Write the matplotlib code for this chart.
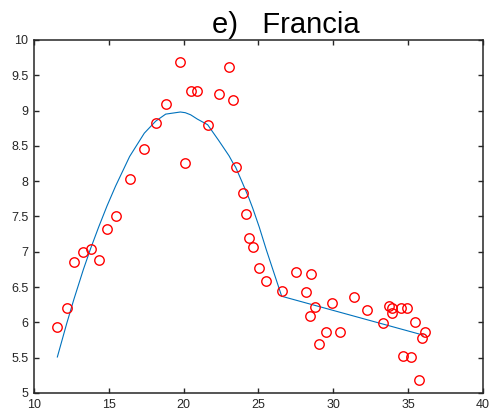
import matplotlib
matplotlib.use("Agg")
import matplotlib.pyplot as plt

# measured points (red circles)
x_obs = [11.56, 12.18, 12.67, 13.30, 13.79, 14.32, 14.88, 15.45, 16.39, 17.37,
         18.13, 18.80, 19.78, 20.11, 20.47, 20.91, 21.60, 22.33, 23.03, 23.29,
         23.47, 23.94, 24.14, 24.36, 24.61, 25.05, 25.52, 26.55, 27.52, 28.19,
         28.46, 28.48, 28.77, 29.04, 29.53, 29.89, 30.42, 31.40, 32.27, 33.34,
         33.74, 33.89, 33.89, 34.54, 34.67, 34.89, 35.18, 35.47, 35.72, 35.94,
         36.12]
y_obs = [5.93, 6.21, 6.85, 7.00, 7.04, 6.88, 7.32, 7.51, 8.03, 8.45,
         8.82, 9.09, 9.69, 8.26, 9.28, 9.28, 8.80, 9.23, 9.62, 9.15,
         8.20, 7.83, 7.54, 7.19, 7.07, 6.77, 6.58, 6.44, 6.72, 6.43,
         6.09, 6.68, 6.22, 5.70, 5.87, 6.28, 5.87, 6.36, 6.18, 5.99,
         6.23, 6.21, 6.13, 6.20, 5.52, 6.20, 5.51, 6.01, 5.18, 5.78,
         5.86]

# fitted curve (blue line)
x_fit = [11.56, 12.18, 12.67, 13.30, 13.79, 14.32, 14.88, 15.45, 16.39, 17.37,
         18.13, 18.80, 19.78, 20.11, 20.47, 20.91, 21.60, 22.33, 23.03, 23.29,
         23.47, 23.94, 24.14, 24.36, 24.61, 25.05, 25.52, 26.55, 36.00]
y_fit = [5.51, 5.98, 6.33, 6.75, 7.05, 7.35, 7.65, 7.93, 8.35, 8.68,
         8.85, 8.95, 8.98, 8.97, 8.94, 8.88, 8.80, 8.58, 8.36, 8.26,
         8.20, 7.97, 7.87, 7.76, 7.62, 7.35, 7.03, 6.37, 5.82]

x_ticks = [10, 15, 20, 25, 30, 35, 40]
y_ticks = [5, 5.5, 6, 6.5, 7, 7.5, 8, 8.5, 9, 9.5, 10]

plt.rcParams['font.family'] = ['Liberation Sans', 'DejaVu Sans']
fig = plt.figure(figsize=(4.92, 4.20), dpi=100)
ax = fig.add_axes([0.0691, 0.0643, 0.9126, 0.8405])

ax.plot(x_fit, y_fit, color="#0072BD", lw=0.8, zorder=2)
ax.plot(x_obs, y_obs, 'o', mfc='none', mec='red', ms=6.8, mew=1.0, zorder=3)

ax.set_xlim(10, 40)
ax.set_ylim(5, 10)
ax.set_xticks(x_ticks)
ax.set_yticks(y_ticks)
ax.set_yticklabels([f"{v:g}" for v in y_ticks])
ax.tick_params(direction='in', top=True, right=True, length=3.5, width=1.0,
               labelsize=9, colors='#262626', pad=4)
for s in ax.spines.values():
    s.set_linewidth(1.1)
    s.set_color('#262626')

fig.text(212.5 / 492, 1 - 33 / 420, "e)   Francia", fontsize=21,
         ha='left', va='baseline', color='black')

fig.savefig("out.png", dpi=100)
